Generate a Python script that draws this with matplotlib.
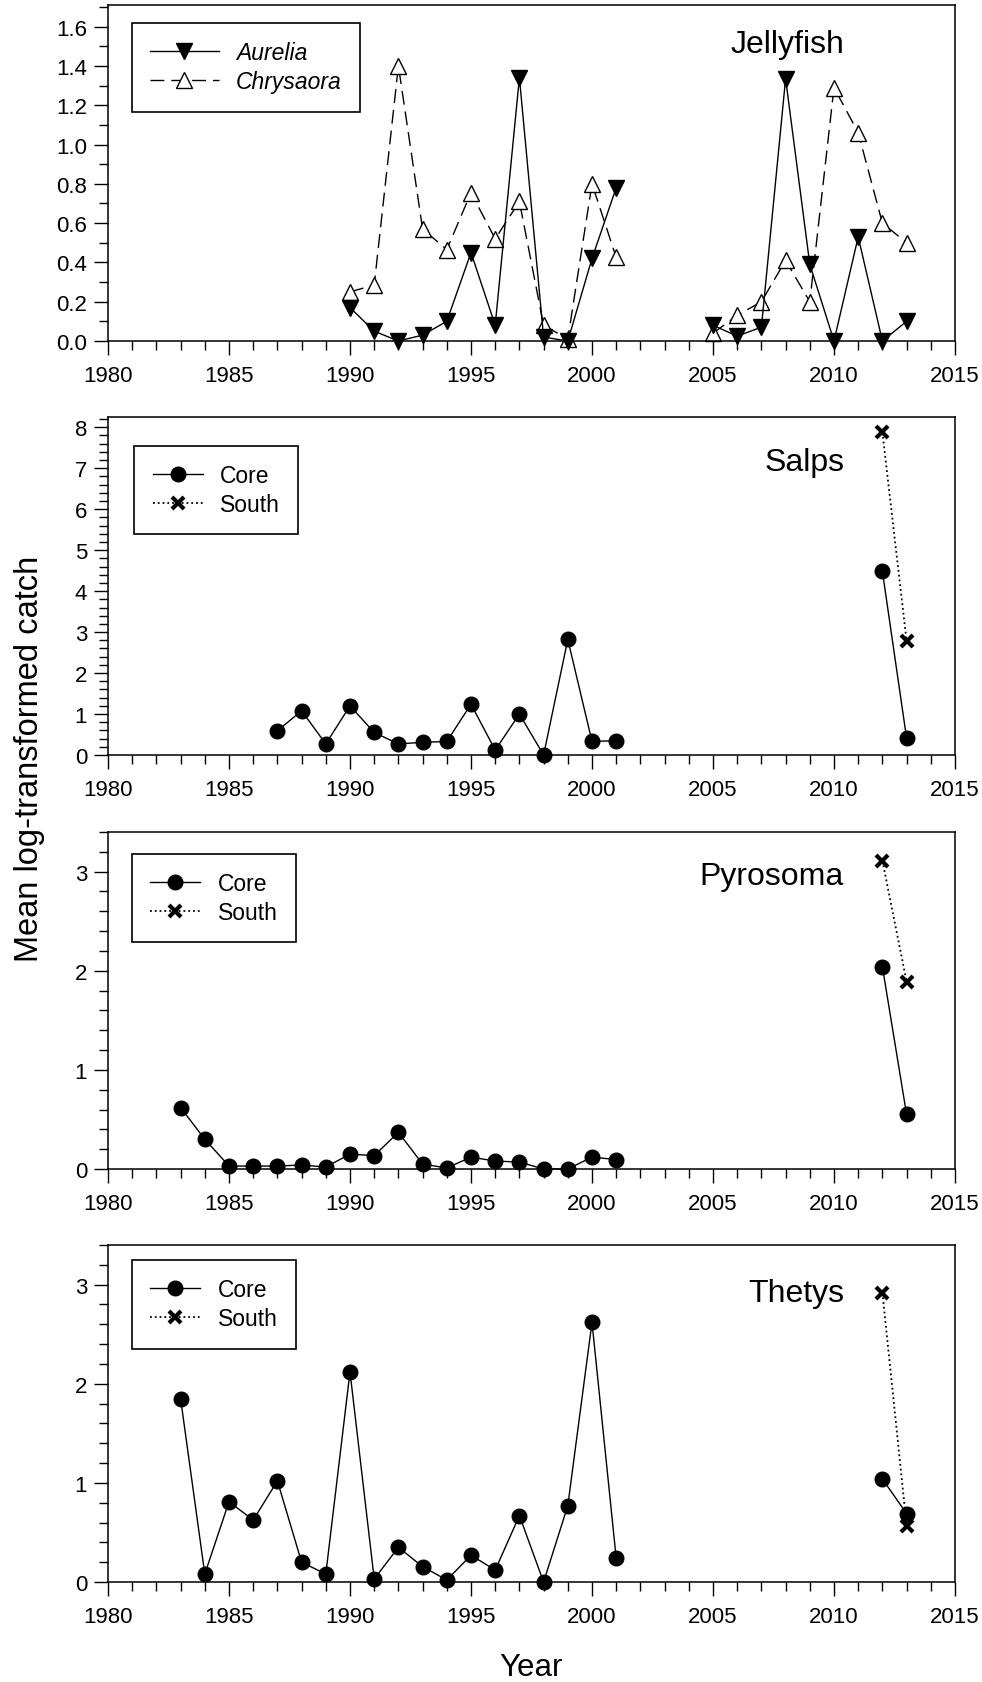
import numpy as np
import matplotlib
matplotlib.use('Agg')
import matplotlib.pyplot as plt
from matplotlib.ticker import MultipleLocator, FormatStrFormatter

plt.rcParams['font.family'] = ['Liberation Sans', 'DejaVu Sans']

nan = np.nan

# jellyfish, 1990-2013 (no survey 2002-2004)
yr_jelly = list(range(1990, 2014))
aurelia = [0.17, 0.05, 0.0, 0.03, 0.10, 0.45, 0.08, 1.34, 0.02, 0.0, 0.42, 0.78,
           nan, nan, nan,
           0.08, 0.025, 0.07, 1.335, 0.39, 0.0, 0.53, 0.0, 0.10]
chrysaora = [0.25, 0.285, 1.40, 0.57, 0.465, 0.755, 0.52, 0.71, 0.08, 0.01, 0.80, 0.425,
             nan, nan, nan,
             0.04, 0.13, 0.20, 0.41, 0.20, 1.29, 1.06, 0.60, 0.50]

# salps
yr_salps = list(range(1987, 2003)) + [2012, 2013]
salps_core = [0.59, 1.08, 0.27, 1.20, 0.55, 0.27, 0.31, 0.33, 1.24, 0.12, 1.0, 0.0,
              2.82, 0.33, 0.35, nan, 4.48, 0.41]

# pyrosoma
yr_pyro = list(range(1983, 2003)) + [2012, 2013]
pyro_core = [0.62, 0.30, 0.03, 0.03, 0.03, 0.04, 0.02, 0.15, 0.135, 0.37, 0.05, 0.01,
             0.12, 0.08, 0.07, 0.0, 0.0, 0.12, 0.095, nan, 2.04, 0.55]

# thetys
yr_thetys = list(range(1983, 2003)) + [2012, 2013]
thetys_core = [1.85, 0.08, 0.81, 0.625, 1.02, 0.20, 0.08, 2.12, 0.03, 0.35, 0.155, 0.02,
               0.27, 0.12, 0.67, 0.0, 0.77, 2.62, 0.24, nan, 1.04, 0.69]

# southern stations, only 2012-2013
yr_south = [2012, 2013]
salps_south = [7.88, 2.78]
pyro_south = [3.11, 1.89]
thetys_south = [2.92, 0.57]

fig = plt.figure(figsize=(9.82, 16.83), dpi=100)

left = 108 / 982
width = 847 / 982
# bottom, height (figure fraction)
boxes = [(1 - 342 / 1683, 336 / 1683),
         (1 - 756 / 1683, 338 / 1683),
         (1 - 1170 / 1683, 337 / 1683),
         (1 - 1583 / 1683, 337 / 1683)]
axes = [fig.add_axes([left, b, width, h]) for b, h in boxes]


def style_axis(ax, ytop, ymajor, yminor, fmt):
    ax.set_xlim(1980, 2015)
    ax.set_ylim(0, ytop)
    ax.xaxis.set_major_locator(MultipleLocator(5))
    ax.xaxis.set_minor_locator(MultipleLocator(1))
    ax.yaxis.set_major_locator(MultipleLocator(ymajor))
    ax.yaxis.set_minor_locator(MultipleLocator(yminor))
    ax.yaxis.set_major_formatter(FormatStrFormatter(fmt))
    ax.tick_params(which='both', direction='out', top=False, right=False,
                   width=1.0, labelsize=16)
    ax.tick_params(axis='x', which='major', length=10, pad=7.5)
    ax.tick_params(axis='x', which='minor', length=6.5)
    ax.tick_params(axis='y', which='major', length=10, pad=5)
    ax.tick_params(axis='y', which='minor', length=6.5)
    for s in ax.spines.values():
        s.set_linewidth(1.1)


def add_legend(ax, x0, y0, hl):
    leg = ax.legend(loc='upper left', bbox_to_anchor=(x0, y0), borderaxespad=0,
                    fancybox=False, edgecolor='black', framealpha=1,
                    fontsize=16.5, handlelength=hl, handletextpad=0.75,
                    labelspacing=0.25, borderpad=0.8)
    leg.get_frame().set_linewidth(1.2)
    return leg


# panel 1 - jellyfish
ax = axes[0]
ax.plot(yr_jelly, aurelia, color='black', lw=1, marker='v', ms=11,
        mfc='black', mec='black', label='Aurelia', clip_on=False, zorder=3)
ax.plot(yr_jelly, chrysaora, color='black', lw=1, dashes=(10, 5), marker='^', ms=11,
        mfc='white', mec='black', mew=1, label='Chrysaora', clip_on=False, zorder=2)
style_axis(ax, 1.71, 0.2, 0.1, '%.1f')
leg = add_legend(ax, 0.028, 0.946, 3.0)
for t in leg.get_texts():
    t.set_fontstyle('italic')
ax.text(0.869, 0.884, 'Jellyfish', transform=ax.transAxes, ha='right', va='center',
        fontsize=23)

# panels 2-4 - core and south
panels = [(yr_salps, salps_core, salps_south, 'Salps', 8.25, (0.031, 0.914), 0.867),
          (yr_pyro, pyro_core, pyro_south, 'Pyrosoma', 3.4, (0.028, 0.935), 0.869),
          (yr_thetys, thetys_core, thetys_south, 'Thetys', 3.4, (0.028, 0.955), 0.858)]

for ax, (yrs, core, south, name, ytop, legpos, ty) in zip(axes[1:], panels):
    ax.plot(yrs, core, color='black', lw=1, marker='o', ms=10.5, mfc='black',
            mec='black', label='Core', clip_on=False, zorder=3)
    ax.plot(yr_south, south, color='black', lw=1.3, ls=':', marker='x', ms=9,
            mew=3, mec='black', label='South', clip_on=False, zorder=2)
    style_axis(ax, ytop, 1, 0.2, '%d')
    add_legend(ax, legpos[0], legpos[1], 2.2)
    ax.text(0.869, ty, name, transform=ax.transAxes, ha='right', va='center',
            fontsize=23)

fig.text(0.0305, 1 - 759 / 1683, 'Mean log-transformed catch', rotation=90,
         ha='center', va='center', fontsize=23.5)
fig.text(0.541, 1 - 1668 / 1683, 'Year', ha='center', va='center', fontsize=22.5)

fig.savefig('out.png', dpi=100)
